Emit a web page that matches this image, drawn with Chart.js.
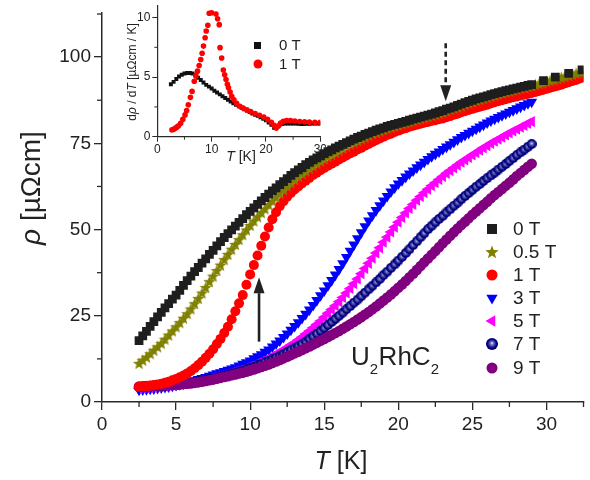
<!DOCTYPE html>
<html><head><meta charset="utf-8">
<script src="https://cdn.jsdelivr.net/npm/chart.js@4.4.1/dist/chart.umd.min.js"></script>
<style>
html,body{margin:0;padding:0;background:#fff;}
#wrap{position:relative;width:590px;height:480px;overflow:hidden;}
#main{position:absolute;left:0;top:0;}
#inset{position:absolute;left:110px;top:0;}
</style></head><body>
<div id="wrap"><canvas id="main" width="590" height="480"></canvas><canvas id="inset" width="220" height="170"></canvas></div>
<script>
// ---------------- DATA ----------------
const fieldLabels = ['0 T', '0.5 T', '1 T', '3 T', '5 T', '7 T', '9 T'];
const temps = [2.5,2.75,3,3.25,3.5,3.75,4,4.25,4.5,4.75, 5,5.25,5.5,5.75,6,6.25,6.5,6.75,7,7.25,
  7.5,7.75,8,8.25,8.5,8.75,9,9.25,9.5,9.75, 10,10.25,10.5,10.75,11,11.25,11.5,11.75,12,12.25,
  12.5,12.75,13,13.25,13.5,13.75,14,14.25,14.5,14.75, 15,15.25,15.5,15.75,16,16.25,16.5,16.75,17,17.25,
  17.5,17.75,18,18.25,18.5,18.75,19,19.25,19.5,19.75, 20,20.25,20.5,20.75,21,21.25,21.5,21.75,22,22.25,
  22.5,22.75,23,23.25,23.5,23.75,24,24.25,24.5,24.75, 25,25.25,25.5,25.75,26,26.25,26.5,26.75,27,27.25,
  27.5,27.75,28,28.25,28.5,28.75,29];
const tempsExtSparse = [29.8,30.6,31.5,32.4];
const tempsExtDense = [29.25,29.5,29.75,30,30.25,30.5,30.75,31,31.25,31.5,31.75,32,32.25,32.5];

const rho0T = [17.8,19.2,20.5,21.9,23.3,24.7,26,27.3,28.5,29.8,
  31,32.4,33.8,35.2,36.5,37.8,39,40.3,41.5,42.8,
  44,45.3,46.5,47.7,48.8,49.9,51,52.1,53.2,54.3,
  55.3,56.3,57.3,58.3,59.3,60.3,61.2,62.1,63,63.9,
  64.8,65.7,66.5,67.3,68,68.8,69.5,70.2,70.8,71.4,
  72,72.6,73.1,73.7,74.2,74.7,75.2,75.7,76.2,76.7,
  77.1,77.6,78,78.4,78.8,79.2,79.5,79.9,80.2,80.5,
  80.8,81.1,81.4,81.7,82,82.3,82.6,82.9,83.2,83.5,
  83.8,84.2,84.5,84.9,85.2,85.6,86,86.4,86.8,87.2,
  87.5,87.9,88.2,88.5,88.8,89.1,89.4,89.7,90,90.3,
  90.5,90.8,91,91.3,91.5,91.8,92];
const rho0TExt = [93.2,94.2,95.3,96.3];
const rho05T = [11.2,12.1,13,14,15,16,17,18.2,19.4,20.6,
  21.8,23,24.3,25.6,27,28.5,30,31.6,33.2,34.9,
  36.5,38.1,39.7,41.3,42.8,44.3,45.7,47.1,48.5,49.9,
  51.2,52.5,53.7,54.9,56,57.2,58.3,59.4,60.5,61.6,
  62.6,63.6,64.5,65.4,66.2,67,67.8,68.5,69.2,69.9,
  70.5,71.2,71.8,72.4,73,73.6,74.2,74.8,75.3,75.8,
  76.3,76.8,77.3,77.8,78.2,78.6,79,79.4,79.7,80,
  80.3,80.7,81,81.3,81.6,81.9,82.2,82.5,82.8,83.1,
  83.4,83.7,84,84.4,84.8,85.2,85.5,85.9,86.3,86.7,
  87,87.4,87.7,88.1,88.4,88.7,89,89.3,89.6,89.9,
  90.2,90.5,90.7,91,91.2,91.5,91.7];
const rho05TExt = [92,92.3,92.6,92.9,93.2,93.5,93.8,94.1,94.4,94.7,95,95.3,95.6,95.9];
const rho1T = [4.4,4.5,4.6,4.75,4.9,5.1,5.3,5.6,5.9,6.3,
  6.7,7.2,7.7,8.3,9,9.8,10.7,11.7,12.8,14,
  15.3,16.8,18.3,20,21.8,24,26.3,28.6,31,34,
  37,39.7,42.5,45.3,48,50.6,53,55,56.8,58.2,
  59.5,60.6,61.6,62.5,63.4,64.2,65,65.8,66.5,67.2,
  67.9,68.5,69.1,69.7,70.3,70.9,71.5,72.1,72.6,73.2,
  73.7,74.3,74.8,75.4,75.9,76.4,76.9,77.4,77.8,78.3,
  78.7,79.1,79.4,79.8,80.1,80.4,80.7,81,81.2,81.5,
  81.7,82,82.2,82.6,82.9,83.3,83.6,84,84.3,84.7,
  85,85.3,85.6,85.9,86.2,86.6,86.9,87.2,87.5,87.8,
  88.1,88.4,88.6,88.9,89.1,89.4,89.6];
const rho1TExt = [89.9,90.2,90.5,90.8,91.1,91.4,91.7,92,92.4,92.7,93.1,93.4,93.8,94.1];
const rho3T = [3.5,3.6,3.7,3.8,3.9,4.05,4.2,4.35,4.5,4.7,
  4.9,5.1,5.3,5.6,5.9,6.25,6.6,6.9,7.2,7.55,
  7.9,8.25,8.6,8.95,9.3,9.65,10,10.5,11,11.5,
  12,12.6,13.2,13.8,14.5,15.2,16,16.9,17.8,18.8,
  19.8,20.9,22,23.1,24.3,25.5,26.8,28.1,29.5,30.9,
  32.3,33.8,35.3,36.9,38.5,40.2,42,43.8,45.6,47.4,
  49.2,50.9,52.6,54.1,55.6,57,58.4,59.7,61,62.2,
  63.3,64.3,65.3,66.2,67.1,68,68.8,69.6,70.4,71.2,
  71.9,72.6,73.3,74,74.7,75.4,76.1,76.8,77.4,78,
  78.6,79.2,79.8,80.4,81,81.6,82.1,82.6,83.1,83.6,
  84.1,84.6,85.1,85.6,86.1,86.6,87];
const rho5T = [4,4.05,4.1,4.2,4.3,4.4,4.5,4.6,4.7,4.85,
  5,5.15,5.3,5.45,5.6,5.8,6,6.25,6.5,6.75,
  7,7.25,7.5,7.8,8.1,8.45,8.8,9.15,9.5,9.9,
  10.3,10.75,11.2,11.7,12.2,12.75,13.3,13.9,14.5,15.15,
  15.8,16.5,17.2,18,18.8,19.7,20.6,21.5,22.5,23.5,
  24.6,25.7,26.8,27.9,29.1,30.3,31.6,32.9,34.3,35.7,
  37.2,38.7,40.2,41.7,43.2,44.7,46.3,47.8,49.3,50.7,
  52.1,53.5,54.8,56.1,57.3,58.5,59.6,60.7,61.7,62.7,
  63.6,64.5,65.4,66.3,67.1,67.9,68.7,69.5,70.2,70.9,
  71.6,72.3,73,73.7,74.3,75,75.6,76.2,76.8,77.4,
  78,78.6,79.1,79.7,80.2,80.8,81.3];
const rho7T = [4.3,4.35,4.4,4.45,4.5,4.55,4.6,4.7,4.8,4.9,
  5,5.15,5.3,5.45,5.6,5.8,6,6.2,6.4,6.6,
  6.8,7.05,7.3,7.6,7.9,8.2,8.5,8.8,9.1,9.45,
  9.8,10.2,10.6,11.05,11.5,11.95,12.4,12.9,13.4,13.95,
  14.5,15.05,15.6,16.2,16.8,17.5,18.3,19,19.8,20.6,
  21.4,22.3,23.2,24.1,25,25.9,26.9,27.8,28.8,29.7,
  30.7,31.7,32.7,33.7,34.7,35.7,36.8,37.8,38.9,39.9,
  41,42.1,43.2,44.3,45.5,46.6,47.8,48.9,50.1,51.1,
  52.1,53.1,54,55,55.9,56.9,57.8,58.8,59.7,60.6,
  61.5,62.4,63.2,64.1,64.9,65.7,66.5,67.4,68.2,69,
  69.9,70.7,71.6,72.4,73.2,74,74.8];
const rho9T = [4.5,4.55,4.6,4.65,4.7,4.75,4.8,4.85,4.9,4.95,
  5,5.1,5.2,5.3,5.4,5.55,5.7,5.9,6.1,6.3,
  6.5,6.75,7,7.25,7.5,7.75,8,8.25,8.5,8.8,
  9.1,9.45,9.8,10.15,10.5,10.9,11.3,11.75,12.2,12.65,
  13.1,13.6,14.1,14.6,15.1,15.6,16.1,16.65,17.2,17.75,
  18.3,18.85,19.4,20,20.6,21.25,21.9,22.55,23.2,23.9,
  24.6,25.35,26.1,26.9,27.7,28.55,29.4,30.3,31.2,32.15,
  33.1,34.1,35.1,36.15,37.2,38.3,39.4,40.5,41.6,42.7,
  43.8,44.9,46,47.1,48.2,49.25,50.3,51.3,52.3,53.3,
  54.3,55.25,56.2,57.15,58.1,59.05,60,60.9,61.8,62.7,
  63.6,64.55,65.5,66.4,67.3,68.2,69.1];

// inset: d rho / dT
const insetLabels = ['0 T', '1 T'];
const insetT0 = [2.5,3,3.5,4,4.5,5,5.5,6,6.5,7, 7.5,8,8.5,9,9.5,10,10.5,11,11.5,12, 12.5,13,13.5,14,14.5,15,15.5,16,16.5,17, 17.5,18,18.5,19,19.5,20,20.5,21,21.5,22, 22.5,23,23.5,24,24.5,25,25.5,26,26.5,27, 27.5,28,28.5,29,29.5,30];
const drho0T = [4.4,4.6,4.85,5.05,5.2,5.3,5.35,5.35,5.3,5.15, 4.95,4.75,4.55,4.35,4.2,4.05,3.85,3.7,3.55,3.4, 3.25,3.1,2.95,2.8,2.68,2.55,2.43,2.3,2.2,2.08, 1.95,1.85,1.75,1.62,1.5,1.38,1.2,1.0,0.75,0.85, 1.0,1.07,1.1,1.1,1.1,1.1,1.1,1.08,1.07,1.07, 1.08,1.08,1.1,1.1,1.1,1.1];
const insetT1 = [2.7,3.0,3.3,3.6,3.9, 4.3,4.7,5.1,5.4,5.7, 6.1,6.4,6.8,7.1,7.4, 7.7,8.0,8.25,8.5,8.8, 9.0,9.3,9.55,10.0,10.8, 11.1,11.4,11.55,11.85,12.15, 12.4,12.65,12.9,13.1,13.4, 13.7,14.1,14.6,15.2,15.8, 16.5,17.2,18,18.8,19.6, 20.3,21,21.5,21.9,22.3, 22.7,23.2,23.8,24.5,25.3, 26.2,27.1,28,29,30];
const drho1T = [0.57,0.62,0.7,0.8,0.92, 1.13,1.45,1.83,2.2,2.68, 3.3,3.8,4.65,5.1,5.5, 5.97,6.48,7.0,7.6,8.3, 8.87,9.35,10.36,10.4,10.3, 9.9,9.4,7.47,6.6,5.6, 5.2,4.8,4.4,4.1,3.75, 3.4,3.1,2.8,2.55,2.4, 2.25,2.1,1.95,1.8,1.65, 1.45,1.2,0.95,0.72,0.9, 1.15,1.3,1.35,1.35,1.32, 1.28,1.25,1.22,1.2,1.2];

// axis minor ticks
const mainXMinor = [2.5,7.5,12.5,17.5,22.5,27.5,32.5];
const mainYMinor = [12.5,37.5,62.5,87.5,112.5];
const insetXMinor = [5,15,25];
const insetYMinor = [2.5,7.5];
// annotation arrows (data coordinates: T, rho at tail -> rho at tip)
const arrowUp = {t: 10.6, from: 17.5, to: 36.2};
const arrowDown = {t: 23.2, from: 104, to: 87.2};

// ---------------- STYLE ----------------
const FONT = "'Liberation Sans', Arial, Helvetica, sans-serif";
const AXIS = '#2a2a2a';
const TXT = '#222222';
Chart.defaults.font.family = FONT;

function pts(xs, ys) { return xs.map((x, i) => ({x: x, y: ys[i]})); }
function makeStar(color, size) {
  const c = document.createElement('canvas'); c.width = size; c.height = size;
  const g = c.getContext('2d'); const cx = size / 2, cy = size / 2 + 0.5, R = size / 2, r = R * 0.42;
  g.beginPath();
  for (let i = 0; i < 10; i++) { const a = -Math.PI / 2 + i * Math.PI / 5; const rr = (i % 2) ? r : R; g.lineTo(cx + rr * Math.cos(a), cy + rr * Math.sin(a)); }
  g.closePath(); g.fillStyle = color; g.fill(); return c;
}
function makeSphere(color, size) {
  const c = document.createElement('canvas'); c.width = size; c.height = size;
  const g = c.getContext('2d');
  const grad = g.createRadialGradient(size * 0.5, size * 0.42, 0, size / 2, size / 2, size / 2);
  grad.addColorStop(0, '#f0f0ff'); grad.addColorStop(0.3, '#6a6ab8'); grad.addColorStop(0.75, color); grad.addColorStop(1, color);
  g.fillStyle = grad; g.beginPath(); g.arc(size / 2, size / 2, size / 2, 0, 2 * Math.PI); g.fill(); return c;
}
const starImg = makeStar('#808000', 13);
const sphereImg = makeSphere('#000080', 10);
const starLeg = makeStar('#808000', 14);
const sphereLeg = makeSphere('#000080', 12);

const series = [
  {label: fieldLabels[0], data: pts(temps.concat(tempsExtSparse), rho0T.concat(rho0TExt)), color: '#1e1e1e', style: 'rect', radius: 6.2, rot: 0, order: 0},
  {label: fieldLabels[1], data: pts(temps.concat(tempsExtDense), rho05T.concat(rho05TExt)), color: '#808000', style: starImg, radius: 6.5, rot: 0, order: 1},
  {label: fieldLabels[2], data: pts(temps.concat(tempsExtDense), rho1T.concat(rho1TExt)), color: '#ff0000', style: 'circle', radius: 5, rot: 0, order: 2},
  {label: fieldLabels[3], data: pts(temps, rho3T), color: '#0000ff', style: 'triangle', radius: 6.4, rot: 180, order: 6},
  {label: fieldLabels[4], data: pts(temps, rho5T), color: '#ff00ff', style: 'triangle', radius: 6.4, rot: 270, order: 5},
  {label: fieldLabels[5], data: pts(temps, rho7T), color: '#000080', style: sphereImg, radius: 5, rot: 0, order: 4},
  {label: fieldLabels[6], data: pts(temps, rho9T), color: '#800080', style: 'circle', radius: 5.3, rot: 0, order: 3}
];

function richWidth(ctx, parts, size) {
  let w = 0;
  parts.forEach(p => { ctx.font = (p.i ? 'italic ' : '') + size + 'px ' + FONT; w += ctx.measureText(p.t).width; });
  return w;
}
function drawRich(ctx, parts, size, x, y) { // centred at x, baseline middle
  let cx = x - richWidth(ctx, parts, size) / 2;
  ctx.textBaseline = 'middle'; ctx.textAlign = 'left';
  parts.forEach(p => { ctx.font = (p.i ? 'italic ' : '') + size + 'px ' + FONT; ctx.fillText(p.t, cx, y); cx += ctx.measureText(p.t).width; });
}
function drawArrow(ctx, x, yFrom, yTip, dashed) {
  const dir = yTip < yFrom ? -1 : 1; const head = 16, half = 5.5;
  ctx.save(); ctx.strokeStyle = '#222'; ctx.fillStyle = '#222'; ctx.lineWidth = 2.6;
  if (dashed) ctx.setLineDash([5, 3.5]);
  ctx.beginPath(); ctx.moveTo(x, yFrom); ctx.lineTo(x, yTip - dir * head); ctx.stroke();
  ctx.setLineDash([]);
  ctx.beginPath(); ctx.moveTo(x, yTip); ctx.lineTo(x - half, yTip - dir * head); ctx.lineTo(x + half, yTip - dir * head); ctx.closePath(); ctx.fill();
  ctx.restore();
}
function legendMarker(ctx, s, x, y) {
  ctx.save(); ctx.fillStyle = s.color;
  if (s.style === starImg) { ctx.drawImage(starLeg, x - 7, y - 7); }
  else if (s.style === sphereImg) { ctx.drawImage(sphereLeg, x - 6, y - 6); }
  else if (s.style === 'rect') { ctx.fillRect(x - 5, y - 5, 10, 10); }
  else if (s.style === 'circle') { ctx.beginPath(); ctx.arc(x, y, 5.5, 0, 2 * Math.PI); ctx.fill(); }
  else if (s.style === 'triangle') {
    ctx.translate(x, y); ctx.rotate(s.rot * Math.PI / 180); const r = 6.5;
    ctx.beginPath(); for (let k = 0; k < 3; k++) { const a = k * 2 * Math.PI / 3; ctx.lineTo(r * Math.sin(a), -r * Math.cos(a)); } ctx.closePath(); ctx.fill();
  }
  ctx.restore();
}

const mainDecor = {
  id: 'mainDecor',
  afterDraw(chart) {
    const ctx = chart.ctx, xs = chart.scales.x, ys = chart.scales.y, a = chart.chartArea;
    ctx.save();
    ctx.strokeStyle = AXIS; ctx.lineWidth = 1.3;
    mainXMinor.forEach(v => { const p = xs.getPixelForValue(v); ctx.beginPath(); ctx.moveTo(p, a.bottom); ctx.lineTo(p, a.bottom + 5); ctx.stroke(); });
    mainYMinor.forEach(v => { const p = ys.getPixelForValue(v); ctx.beginPath(); ctx.moveTo(a.left, p); ctx.lineTo(a.left - 5, p); ctx.stroke(); });
    ctx.fillStyle = TXT;
    drawRich(ctx, [{t: 'T', i: true}, {t: ' [K]'}], 25, 341, 462);
    ctx.save(); ctx.translate(32, 188); ctx.rotate(-Math.PI / 2);
    drawRich(ctx, [{t: 'ρ', i: true}, {t: ' [µΩcm]'}], 28, 0, 0);
    ctx.restore();
    // legend
    const rowY = [229, 252, 275, 298, 321, 344, 368];
    series.forEach((s, i) => {
      legendMarker(ctx, s, 492, rowY[i]);
      ctx.fillStyle = TXT; ctx.font = '19px ' + FONT; ctx.textBaseline = 'middle'; ctx.textAlign = 'left';
      ctx.fillText(s.label, 513, rowY[i] + 1);
    });
    // compound label
    ctx.fillStyle = TXT; ctx.textBaseline = 'alphabetic'; ctx.textAlign = 'left';
    let x = 351;
    [['U', 26, 365], ['2', 15, 374], ['RhC', 26, 365], ['2', 15, 374]].forEach(p => {
      ctx.font = p[1] + 'px ' + FONT; ctx.fillText(p[0], x, p[2]); x += ctx.measureText(p[0]).width + (p[1] < 20 ? 0.5 : 0);
    });
    drawArrow(ctx, xs.getPixelForValue(arrowUp.t), ys.getPixelForValue(arrowUp.from), ys.getPixelForValue(arrowUp.to), false);
    drawArrow(ctx, xs.getPixelForValue(arrowDown.t), ys.getPixelForValue(arrowDown.from), ys.getPixelForValue(arrowDown.to), true);
    ctx.restore();
  }
};

new Chart(document.getElementById('main'), {
  type: 'scatter',
  data: {datasets: series.map(s => ({
    label: s.label, data: s.data, showLine: false, order: s.order,
    pointStyle: s.style, pointRadius: s.radius, pointRotation: s.rot,
    backgroundColor: s.color, borderColor: s.color, pointBorderWidth: 0, pointHoverRadius: s.radius
  }))},
  options: {
    responsive: false, animation: false, devicePixelRatio: 1,
    layout: {padding: {top: 13, right: 3, left: 0, bottom: 0}},
    plugins: {legend: {display: false}, tooltip: {enabled: false}},
    events: [],
    scales: {
      x: {type: 'linear', min: 0, max: 32.5, position: 'bottom',
        ticks: {stepSize: 5, includeBounds: false, font: {size: 19}, color: TXT, padding: 3, maxRotation: 0, autoSkip: false},
        grid: {drawOnChartArea: false, tickLength: 8, color: AXIS, lineWidth: 1.3},
        border: {color: AXIS, width: 1.5},
        afterFit(s) { s.height = 78; s.paddingLeft = 0; s.paddingRight = 0; }
      },
      y: {type: 'linear', min: 0, max: 112.8, position: 'left',
        ticks: {stepSize: 25, includeBounds: false, font: {size: 19}, color: TXT, padding: 3},
        grid: {drawOnChartArea: false, tickLength: 8, color: AXIS, lineWidth: 1.3},
        border: {color: AXIS, width: 1.5},
        afterFit(s) { s.width = 102; s.paddingTop = 0; s.paddingBottom = 0; }
      }
    }
  },
  plugins: [mainDecor]
});

const insetSeries = [
  {label: insetLabels[0], data: pts(insetT0, drho0T), color: '#111111', style: 'rect', radius: 2.8, order: 1},
  {label: insetLabels[1], data: pts(insetT1, drho1T), color: '#ff0000', style: 'circle', radius: 2.8, order: 0}
];
const insetDecor = {
  id: 'insetDecor',
  afterDraw(chart) {
    const ctx = chart.ctx, xs = chart.scales.x, ys = chart.scales.y, a = chart.chartArea;
    ctx.save();
    ctx.strokeStyle = AXIS; ctx.lineWidth = 1;
    insetXMinor.forEach(v => { const p = xs.getPixelForValue(v); ctx.beginPath(); ctx.moveTo(p, a.bottom); ctx.lineTo(p, a.bottom + 3); ctx.stroke(); });
    insetYMinor.forEach(v => { const p = ys.getPixelForValue(v); ctx.beginPath(); ctx.moveTo(a.left, p); ctx.lineTo(a.left - 3, p); ctx.stroke(); });
    ctx.fillStyle = TXT;
    drawRich(ctx, [{t: 'T', i: true}, {t: ' [K]'}], 14, 131, 157);
    ctx.save(); ctx.translate(23, 72); ctx.rotate(-Math.PI / 2);
    drawRich(ctx, [{t: 'd'}, {t: 'ρ', i: true}, {t: ' / d'}, {t: 'T', i: true}, {t: ' [µΩcm / K]'}], 12, 0, 0);
    ctx.restore();
    ctx.fillStyle = '#111'; ctx.fillRect(144, 42, 7, 7);
    ctx.fillStyle = '#ff0000'; ctx.beginPath(); ctx.arc(148, 64, 4.5, 0, 2 * Math.PI); ctx.fill();
    ctx.fillStyle = TXT; ctx.font = '15px ' + FONT; ctx.textBaseline = 'middle'; ctx.textAlign = 'left';
    ctx.fillText(insetLabels[0], 169, 46); ctx.fillText(insetLabels[1], 169, 65);
    ctx.restore();
  }
};
new Chart(document.getElementById('inset'), {
  type: 'scatter',
  data: {datasets: insetSeries.map(s => ({
    label: s.label, data: s.data, showLine: false, order: s.order,
    pointStyle: s.style, pointRadius: s.radius, backgroundColor: s.color, borderColor: s.color, pointBorderWidth: 0
  }))},
  options: {
    responsive: false, animation: false, devicePixelRatio: 1,
    layout: {padding: {top: 5.6, right: 9.7, left: 0, bottom: 0}},
    plugins: {legend: {display: false}, tooltip: {enabled: false}},
    events: [],
    scales: {
      x: {type: 'linear', min: 0, max: 30, position: 'bottom',
        ticks: {stepSize: 10, includeBounds: false, font: {size: 12}, color: TXT, padding: 1, maxRotation: 0, autoSkip: false},
        grid: {drawOnChartArea: false, tickLength: 5, color: AXIS, lineWidth: 1},
        border: {color: AXIS, width: 1.2},
        afterFit(s) { s.height = 33.3; s.paddingLeft = 0; s.paddingRight = 0; }
      },
      y: {type: 'linear', min: 0, max: 11, position: 'left',
        ticks: {stepSize: 5, includeBounds: false, font: {size: 12}, color: TXT, padding: 2},
        grid: {drawOnChartArea: false, tickLength: 5, color: AXIS, lineWidth: 1},
        border: {color: AXIS, width: 1.2},
        afterFit(s) { s.width = 47.3; s.paddingTop = 0; s.paddingBottom = 0; }
      }
    }
  },
  plugins: [insetDecor]
});
</script></body></html>
